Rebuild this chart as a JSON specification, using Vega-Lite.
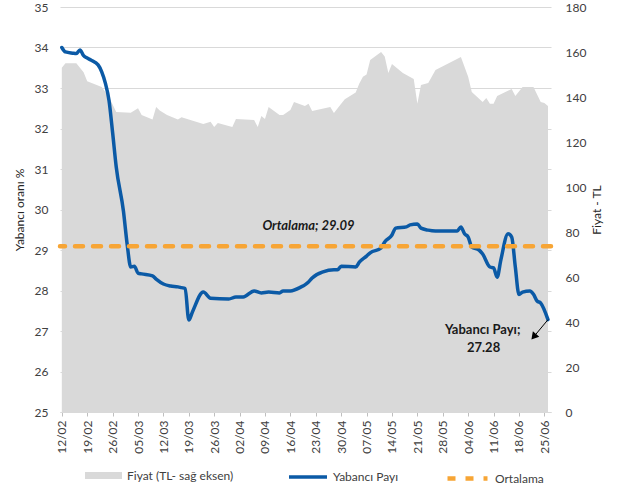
{
  "$schema": "https://vega.github.io/schema/vega-lite/v6.json",
  "width": 491,
  "height": 405,
  "autosize": {"type": "none"},
  "padding": {"left": 60, "top": 7, "right": 82, "bottom": 82},
  "background": "white",
  "config": {
    "font": "Lato",
    "view": {"stroke": null},
    "axis": {"labelFont": "Lato", "titleFont": "Lato"},
    "axisX": {"labelOverlap": false, "labelSeparation": 0},
    "legend": {"labelFont": "Lato", "labelFontSize": 12, "labelColor": "#404040", "padding": 0, "orient": "none"}
  },
  "datasets": {
    "fiyat": [
      {"tarih": "2018-02-12", "fiyat": 153},
      {"tarih": "2018-02-13", "fiyat": 155},
      {"tarih": "2018-02-16", "fiyat": 155},
      {"tarih": "2018-02-18", "fiyat": 151},
      {"tarih": "2018-02-19", "fiyat": 147},
      {"tarih": "2018-02-23", "fiyat": 144.5},
      {"tarih": "2018-02-25", "fiyat": 140},
      {"tarih": "2018-02-27", "fiyat": 133.3},
      {"tarih": "2018-03-03", "fiyat": 133},
      {"tarih": "2018-03-05", "fiyat": 135},
      {"tarih": "2018-03-06", "fiyat": 132},
      {"tarih": "2018-03-09", "fiyat": 130},
      {"tarih": "2018-03-10", "fiyat": 135.6},
      {"tarih": "2018-03-11", "fiyat": 134},
      {"tarih": "2018-03-13", "fiyat": 132},
      {"tarih": "2018-03-16", "fiyat": 130},
      {"tarih": "2018-03-17", "fiyat": 131},
      {"tarih": "2018-03-23", "fiyat": 128},
      {"tarih": "2018-03-25", "fiyat": 129},
      {"tarih": "2018-03-26", "fiyat": 126.7},
      {"tarih": "2018-03-27", "fiyat": 128.4},
      {"tarih": "2018-03-31", "fiyat": 126.7},
      {"tarih": "2018-04-01", "fiyat": 130.2},
      {"tarih": "2018-04-06", "fiyat": 129.8},
      {"tarih": "2018-04-07", "fiyat": 126.7},
      {"tarih": "2018-04-08", "fiyat": 131.6},
      {"tarih": "2018-04-09", "fiyat": 130.2},
      {"tarih": "2018-04-10", "fiyat": 135.6},
      {"tarih": "2018-04-13", "fiyat": 132},
      {"tarih": "2018-04-14", "fiyat": 132},
      {"tarih": "2018-04-16", "fiyat": 134.2},
      {"tarih": "2018-04-17", "fiyat": 137.8},
      {"tarih": "2018-04-20", "fiyat": 136},
      {"tarih": "2018-04-21", "fiyat": 137},
      {"tarih": "2018-04-22", "fiyat": 133.8},
      {"tarih": "2018-04-27", "fiyat": 135.6},
      {"tarih": "2018-04-28", "fiyat": 132.9},
      {"tarih": "2018-04-30", "fiyat": 137},
      {"tarih": "2018-05-01", "fiyat": 139},
      {"tarih": "2018-05-04", "fiyat": 142},
      {"tarih": "2018-05-05", "fiyat": 146},
      {"tarih": "2018-05-06", "fiyat": 149},
      {"tarih": "2018-05-07", "fiyat": 150},
      {"tarih": "2018-05-08", "fiyat": 156.4},
      {"tarih": "2018-05-11", "fiyat": 160},
      {"tarih": "2018-05-12", "fiyat": 158},
      {"tarih": "2018-05-13", "fiyat": 150.7},
      {"tarih": "2018-05-14", "fiyat": 154.7},
      {"tarih": "2018-05-17", "fiyat": 150.7},
      {"tarih": "2018-05-20", "fiyat": 148},
      {"tarih": "2018-05-21", "fiyat": 137},
      {"tarih": "2018-05-22", "fiyat": 145.3},
      {"tarih": "2018-05-24", "fiyat": 146.2},
      {"tarih": "2018-05-26", "fiyat": 152},
      {"tarih": "2018-06-02", "fiyat": 157.8},
      {"tarih": "2018-06-04", "fiyat": 149},
      {"tarih": "2018-06-05", "fiyat": 142.2},
      {"tarih": "2018-06-08", "fiyat": 137.8},
      {"tarih": "2018-06-09", "fiyat": 139.6},
      {"tarih": "2018-06-10", "fiyat": 137},
      {"tarih": "2018-06-11", "fiyat": 137},
      {"tarih": "2018-06-12", "fiyat": 140.4},
      {"tarih": "2018-06-16", "fiyat": 143.6},
      {"tarih": "2018-06-17", "fiyat": 140.4},
      {"tarih": "2018-06-19", "fiyat": 144.4},
      {"tarih": "2018-06-22", "fiyat": 144.4},
      {"tarih": "2018-06-24", "fiyat": 137.8},
      {"tarih": "2018-06-25", "fiyat": 137.3},
      {"tarih": "2018-06-26", "fiyat": 136}
    ],
    "pay": [
      {"tarih": "2018-02-12", "pay": 34.0},
      {"tarih": "2018-02-13", "pay": 33.89},
      {"tarih": "2018-02-15", "pay": 33.86},
      {"tarih": "2018-02-16", "pay": 33.85},
      {"tarih": "2018-02-17", "pay": 33.94},
      {"tarih": "2018-02-18", "pay": 33.8},
      {"tarih": "2018-02-19", "pay": 33.74},
      {"tarih": "2018-02-20", "pay": 33.69},
      {"tarih": "2018-02-22", "pay": 33.57},
      {"tarih": "2018-02-23", "pay": 33.4},
      {"tarih": "2018-02-24", "pay": 33.12},
      {"tarih": "2018-02-25", "pay": 32.7},
      {"tarih": "2018-02-26", "pay": 31.9},
      {"tarih": "2018-02-27", "pay": 31.05},
      {"tarih": "2018-03-01", "pay": 29.95},
      {"tarih": "2018-03-02", "pay": 29.15},
      {"tarih": "2018-03-03", "pay": 28.58},
      {"tarih": "2018-03-04", "pay": 28.6},
      {"tarih": "2018-03-05", "pay": 28.43},
      {"tarih": "2018-03-06", "pay": 28.41},
      {"tarih": "2018-03-09", "pay": 28.36},
      {"tarih": "2018-03-10", "pay": 28.28},
      {"tarih": "2018-03-12", "pay": 28.16},
      {"tarih": "2018-03-14", "pay": 28.11},
      {"tarih": "2018-03-16", "pay": 28.09},
      {"tarih": "2018-03-17", "pay": 28.07},
      {"tarih": "2018-03-18", "pay": 28.05},
      {"tarih": "2018-03-19", "pay": 27.27},
      {"tarih": "2018-03-20", "pay": 27.47},
      {"tarih": "2018-03-23", "pay": 27.96},
      {"tarih": "2018-03-25", "pay": 27.81},
      {"tarih": "2018-03-30", "pay": 27.79},
      {"tarih": "2018-04-01", "pay": 27.84},
      {"tarih": "2018-04-03", "pay": 27.84},
      {"tarih": "2018-04-06", "pay": 27.99},
      {"tarih": "2018-04-08", "pay": 27.94},
      {"tarih": "2018-04-10", "pay": 27.96},
      {"tarih": "2018-04-13", "pay": 27.94},
      {"tarih": "2018-04-14", "pay": 27.99},
      {"tarih": "2018-04-16", "pay": 27.99},
      {"tarih": "2018-04-19", "pay": 28.09},
      {"tarih": "2018-04-20", "pay": 28.14},
      {"tarih": "2018-04-21", "pay": 28.21},
      {"tarih": "2018-04-22", "pay": 28.31},
      {"tarih": "2018-04-25", "pay": 28.46},
      {"tarih": "2018-04-28", "pay": 28.51},
      {"tarih": "2018-04-29", "pay": 28.51},
      {"tarih": "2018-04-30", "pay": 28.6},
      {"tarih": "2018-05-04", "pay": 28.58},
      {"tarih": "2018-05-05", "pay": 28.7},
      {"tarih": "2018-05-07", "pay": 28.85},
      {"tarih": "2018-05-08", "pay": 28.93},
      {"tarih": "2018-05-11", "pay": 29.05},
      {"tarih": "2018-05-12", "pay": 29.2},
      {"tarih": "2018-05-14", "pay": 29.37},
      {"tarih": "2018-05-15", "pay": 29.54},
      {"tarih": "2018-05-18", "pay": 29.57},
      {"tarih": "2018-05-19", "pay": 29.62},
      {"tarih": "2018-05-21", "pay": 29.64},
      {"tarih": "2018-05-22", "pay": 29.54},
      {"tarih": "2018-05-24", "pay": 29.49},
      {"tarih": "2018-05-26", "pay": 29.47},
      {"tarih": "2018-06-01", "pay": 29.47},
      {"tarih": "2018-06-02", "pay": 29.57},
      {"tarih": "2018-06-03", "pay": 29.4},
      {"tarih": "2018-06-04", "pay": 29.32},
      {"tarih": "2018-06-05", "pay": 29.07},
      {"tarih": "2018-06-07", "pay": 29.0},
      {"tarih": "2018-06-08", "pay": 28.9},
      {"tarih": "2018-06-10", "pay": 28.58},
      {"tarih": "2018-06-11", "pay": 28.56},
      {"tarih": "2018-06-12", "pay": 28.33},
      {"tarih": "2018-06-13", "pay": 28.75},
      {"tarih": "2018-06-15", "pay": 29.4},
      {"tarih": "2018-06-16", "pay": 29.32},
      {"tarih": "2018-06-17", "pay": 28.58},
      {"tarih": "2018-06-18", "pay": 27.9},
      {"tarih": "2018-06-19", "pay": 27.96},
      {"tarih": "2018-06-21", "pay": 27.99},
      {"tarih": "2018-06-22", "pay": 27.91},
      {"tarih": "2018-06-23", "pay": 27.74},
      {"tarih": "2018-06-24", "pay": 27.69},
      {"tarih": "2018-06-26", "pay": 27.28}
    ],
    "ort": [{"ortalama": 29.09, "seri": "Ortalama"}]
  },
  "layer": [
    {
      "data": {"name": "fiyat"},
      "mark": {"type": "area", "opacity": 1},
      "encoding": {
        "x": {
          "field": "tarih",
          "type": "temporal",
          "scale": {
            "type": "utc",
            "domain": [
              {"year": 2018, "month": 2, "date": 11, "hours": 12, "utc": true},
              {"year": 2018, "month": 6, "date": 26, "hours": 20, "utc": true}
            ],
            "nice": false
          },
          "axis": {
            "values": [
              {"year": 2018, "month": 2, "date": 12, "utc": true},
              {"year": 2018, "month": 2, "date": 19, "utc": true},
              {"year": 2018, "month": 2, "date": 26, "utc": true},
              {"year": 2018, "month": 3, "date": 5, "utc": true},
              {"year": 2018, "month": 3, "date": 12, "utc": true},
              {"year": 2018, "month": 3, "date": 19, "utc": true},
              {"year": 2018, "month": 3, "date": 26, "utc": true},
              {"year": 2018, "month": 4, "date": 2, "utc": true},
              {"year": 2018, "month": 4, "date": 9, "utc": true},
              {"year": 2018, "month": 4, "date": 16, "utc": true},
              {"year": 2018, "month": 4, "date": 23, "utc": true},
              {"year": 2018, "month": 4, "date": 30, "utc": true},
              {"year": 2018, "month": 5, "date": 7, "utc": true},
              {"year": 2018, "month": 5, "date": 14, "utc": true},
              {"year": 2018, "month": 5, "date": 21, "utc": true},
              {"year": 2018, "month": 5, "date": 28, "utc": true},
              {"year": 2018, "month": 6, "date": 4, "utc": true},
              {"year": 2018, "month": 6, "date": 11, "utc": true},
              {"year": 2018, "month": 6, "date": 18, "utc": true},
              {"year": 2018, "month": 6, "date": 25, "utc": true}
            ],
            "tickCount": 40,
            "labelExpr": "utcFormat(datum.value, '%d/%m')",
            "labelAngle": 270,
            "labelFontSize": 12,
            "labelColor": "#404040",
            "labelPadding": 4,
            "labelOverlap": false,
            "labelSeparation": 0,
            "labelFlush": false,
            "tickSize": 4,
            "tickColor": "#bfbfbf",
            "domainColor": "#d9d9d9",
            "grid": false,
            "title": null
          }
        },
        "y": {
          "field": "fiyat",
          "type": "quantitative",
          "scale": {"domain": [0, 180], "nice": false},
          "axis": {
            "orient": "right",
            "values": [0, 20, 40, 60, 80, 100, 120, 140, 160, 180],
            "format": "d",
            "grid": false,
            "ticks": false,
            "domain": false,
            "labelPadding": 14,
            "labelFontSize": 12,
            "labelColor": "#404040",
            "title": "Fiyat - TL",
            "titleAngle": 270,
            "titleBaseline": "top",
            "titleFontSize": 12,
            "titleFontWeight": "normal",
            "titleColor": "#262626",
            "titlePadding": 6
          }
        },
        "fill": {
          "datum": "Fiyat (TL- sağ eksen)",
          "scale": {"range": ["#d9d9d9"]},
          "legend": {
            "title": null,
            "legendX": 25,
            "legendY": 450,
            "symbolType": "M-1,-0.19H1V0.19H-1Z",
            "symbolSize": 1369,
            "symbolStrokeWidth": 0,
            "labelOffset": 5
          }
        }
      }
    },
    {
      "layer": [
        {
          "data": {"name": "pay"},
          "mark": {"type": "line", "strokeWidth": 3.5, "interpolate": "monotone", "strokeCap": "round", "strokeJoin": "round"},
          "encoding": {
            "x": {"field": "tarih", "type": "temporal"},
            "y": {
              "field": "pay",
              "type": "quantitative",
              "scale": {"domain": [25, 35], "nice": false, "zero": false},
              "axis": {
                "orient": "left",
                "values": [25, 26, 27, 28, 29, 30, 31, 32, 33, 34, 35],
                "format": "d",
                "grid": true,
                "gridColor": "#d9d9d9",
                "gridWidth": 1,
                "ticks": false,
                "domain": false,
                "labelPadding": 12,
                "labelFontSize": 12,
                "labelColor": "#404040",
                "title": "Yabancı oranı %",
                "titleFontSize": 12,
                "titleFontWeight": "normal",
                "titleColor": "#262626",
                "titlePadding": 8
              }
            },
            "stroke": {
              "datum": "Yabancı Payı",
              "scale": {"range": ["#0b5aa6"]},
              "legend": {
                "title": null,
                "legendX": 227,
                "legendY": 449,
                "symbolType": "stroke",
                "symbolSize": 1444,
                "symbolStrokeWidth": 3.5,
                "labelOffset": 4
              }
            }
          }
        },
        {
          "data": {"name": "ort"},
          "mark": {"type": "rule", "color": "#f7a535", "strokeWidth": 4.5, "strokeCap": "round"},
          "encoding": {
            "y": {"field": "ortalama", "type": "quantitative"},
            "strokeDash": {
              "field": "seri",
              "type": "nominal",
              "scale": {"range": [[8, 10]]},
              "legend": {
                "title": null,
                "legendX": 385,
                "legendY": 449,
                "symbolType": "stroke",
                "symbolSize": 1600,
                "symbolStrokeWidth": 4.5,
                "symbolStrokeColor": "#f7a535",
                "labelOffset": 5
              }
            }
          }
        },
        {
          "data": {"name": "ort"},
          "mark": {"type": "text", "fontSize": 13, "fontWeight": "bold", "fontStyle": "italic", "color": "#1a1a1a", "align": "center", "baseline": "middle", "dy": -20},
          "encoding": {
            "x": {"datum": {"year": 2018, "month": 4, "date": 21, "utc": true}, "type": "temporal"},
            "y": {"field": "ortalama", "type": "quantitative"},
            "text": {"value": "Ortalama; 29.09"}
          }
        },
        {
          "data": {"name": "ort"},
          "mark": {"type": "text", "fontSize": 13, "fontWeight": "bold", "color": "#1a1a1a", "align": "center", "baseline": "middle", "dy": 10.5},
          "encoding": {
            "x": {"datum": {"year": 2018, "month": 6, "date": 8, "utc": true}, "type": "temporal"},
            "y": {"datum": 27.28, "type": "quantitative"},
            "text": {"value": "Yabancı  Payı;"}
          }
        },
        {
          "data": {"name": "ort"},
          "mark": {"type": "text", "fontSize": 13, "fontWeight": "bold", "color": "#1a1a1a", "align": "center", "baseline": "middle", "dy": 28.5},
          "encoding": {
            "x": {"datum": {"year": 2018, "month": 6, "date": 8, "hours": 6, "utc": true}, "type": "temporal"},
            "y": {"datum": 27.28, "type": "quantitative"},
            "text": {"value": "27.28"}
          }
        },
        {
          "data": {"name": "ort"},
          "mark": {"type": "rule", "color": "#000000", "strokeWidth": 1},
          "encoding": {
            "x": {"datum": {"year": 2018, "month": 6, "date": 26, "utc": true}, "type": "temporal"},
            "y": {"datum": 27.28, "type": "quantitative"},
            "x2": {"datum": {"year": 2018, "month": 6, "date": 22, "hours": 7, "utc": true}},
            "y2": {"datum": 26.88}
          }
        },
        {
          "data": {"name": "ort"},
          "mark": {"type": "point", "shape": "triangle", "filled": true, "color": "#000000", "size": 70, "angle": 220, "opacity": 1},
          "encoding": {
            "x": {"datum": {"year": 2018, "month": 6, "date": 22, "hours": 7, "utc": true}, "type": "temporal"},
            "y": {"datum": 26.88, "type": "quantitative"}
          }
        }
      ]
    }
  ],
  "resolve": {"scale": {"y": "independent"}, "axis": {"y": "independent"}}
}
